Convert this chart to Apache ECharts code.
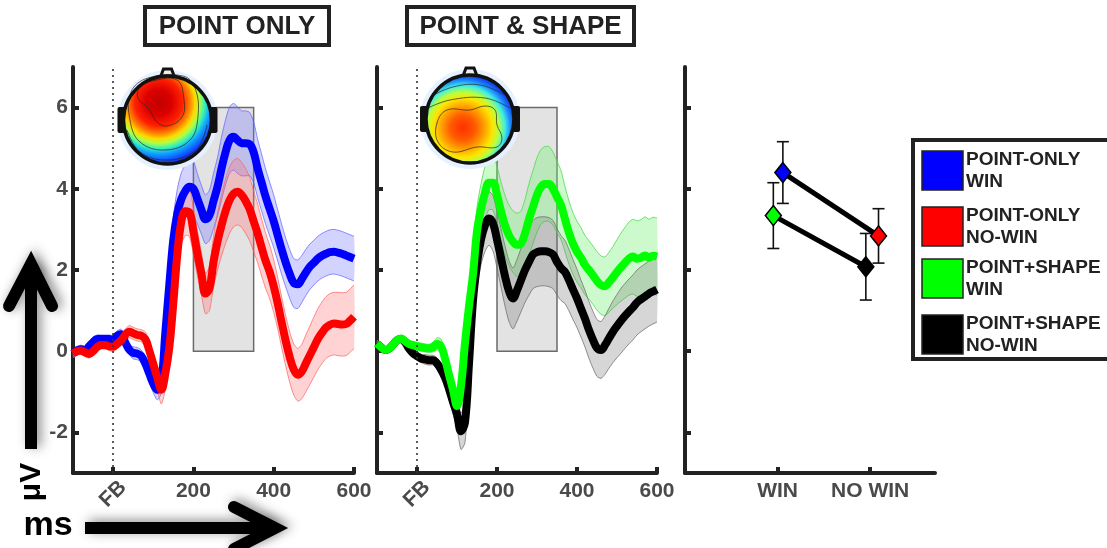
<!DOCTYPE html>
<html><head><meta charset="utf-8">
<script src="https://cdn.jsdelivr.net/npm/echarts@6/dist/echarts.min.js"></script>
<style>html,body{margin:0;padding:0;background:#fff}#c{width:1107px;height:548px}</style>
</head><body><div id="c"></div>
<script>
// ---------- DATA ----------
const times = [-100,-90,-80,-70,-60,-50,-40,-30,-20,-10,
  0,10,20,30,40,50,60,70,80,90,
  100,110,120,130,140,150,160,170,180,190,
  200,210,220,230,240,250,260,270,280,290,
  300,310,320,330,340,350,360,370,380,390,
  400,410,420,430,440,450,460,470,480,490,
  500,510,520,530,540,550,560,570,580,590,600];
const xTickValues = [0, 200, 400, 600];
const xLabelValues = [200, 400, 600];
const yTickValues = [-2, 0, 2, 4, 6];
const feedbackLabel = 'FB';

const pointOnlyWin = [-0.05,0.02,0.05,0.02,0.12,0.22,0.30,0.30,0.30,0.30,
  0.27,0.38,0.42,0.22,0.04,-0.04,-0.06,-0.12,-0.30,-0.55,
  -0.80,-0.95,-0.75,0.45,1.65,2.75,3.40,3.75,3.95,4.05,
  4.00,3.75,3.48,3.25,3.35,3.70,4.05,4.50,4.90,5.20,
  5.28,5.20,5.12,5.12,5.10,4.90,4.50,4.15,3.80,3.50,
  3.20,2.85,2.50,2.18,1.90,1.68,1.65,1.78,1.94,2.08,
  2.18,2.28,2.35,2.40,2.44,2.45,2.43,2.40,2.36,2.32,2.28];
const pointOnlyWinSE = [0.10,0.10,0.10,0.10,0.10,0.10,0.10,0.10,0.10,0.10,
  0.12,0.12,0.12,0.12,0.12,0.15,0.15,0.15,0.18,0.20,
  0.22,0.25,0.28,0.35,0.45,0.55,0.60,0.65,0.65,0.70,
  0.68,0.62,0.60,0.60,0.62,0.68,0.72,0.78,0.80,0.82,
  0.82,0.82,0.80,0.80,0.78,0.75,0.72,0.70,0.68,0.66,
  0.65,0.63,0.62,0.60,0.60,0.60,0.60,0.58,0.57,0.56,
  0.55,0.55,0.55,0.55,0.55,0.55,0.55,0.55,0.55,0.55,0.55];
const pointOnlyNoWin = [-0.06,0.00,0.02,-0.03,-0.07,0.00,0.10,0.15,0.15,0.12,
  0.11,0.18,0.27,0.40,0.48,0.44,0.40,0.38,0.30,0.02,
  -0.32,-0.65,-0.95,-0.55,0.10,1.20,2.40,3.20,3.45,3.42,
  2.95,2.40,1.90,1.42,1.55,2.20,2.70,3.10,3.45,3.72,
  3.88,3.93,3.85,3.70,3.50,3.20,2.90,2.55,2.22,1.95,
  1.60,1.18,0.70,0.25,-0.15,-0.45,-0.58,-0.50,-0.30,-0.10,
  0.10,0.30,0.45,0.58,0.65,0.68,0.67,0.66,0.67,0.75,0.85];
const pointOnlyNoWinSE = [0.10,0.10,0.10,0.10,0.10,0.10,0.10,0.10,0.10,0.10,
  0.12,0.12,0.13,0.14,0.15,0.15,0.15,0.15,0.18,0.20,
  0.25,0.30,0.35,0.40,0.45,0.50,0.55,0.58,0.60,0.60,
  0.58,0.55,0.52,0.50,0.55,0.62,0.70,0.75,0.80,0.82,
  0.82,0.82,0.80,0.80,0.78,0.75,0.72,0.70,0.68,0.66,
  0.65,0.63,0.62,0.62,0.62,0.63,0.65,0.67,0.70,0.72,
  0.74,0.75,0.76,0.76,0.77,0.77,0.78,0.78,0.78,0.78,0.78];
const pointShapeWin = [0.19,0.10,0.03,0.06,0.16,0.27,0.31,0.25,0.18,0.15,
  0.12,0.10,0.08,0.07,0.10,0.18,0.12,-0.18,-0.58,-0.95,
  -1.35,-0.85,0.20,1.10,1.90,2.95,3.50,3.90,4.15,4.15,
  3.85,3.45,3.10,2.85,2.70,2.62,2.65,2.90,3.25,3.55,
  3.85,4.05,4.12,4.12,4.00,3.80,3.60,3.25,2.92,2.65,
  2.45,2.30,2.12,2.00,1.87,1.73,1.63,1.60,1.70,1.82,
  1.95,2.07,2.18,2.28,2.33,2.28,2.30,2.36,2.30,2.35,2.33];
const pointShapeWinSE = [0.08,0.08,0.08,0.08,0.08,0.08,0.08,0.08,0.08,0.08,
  0.10,0.10,0.10,0.10,0.12,0.15,0.18,0.20,0.20,0.20,
  0.20,0.25,0.35,0.45,0.55,0.60,0.62,0.65,0.66,0.68,
  0.70,0.72,0.74,0.75,0.76,0.78,0.80,0.84,0.88,0.90,
  0.92,0.92,0.92,0.92,0.90,0.88,0.85,0.80,0.78,0.76,
  0.75,0.74,0.73,0.72,0.72,0.72,0.72,0.72,0.74,0.76,
  0.80,0.84,0.87,0.90,0.92,0.93,0.94,0.95,0.95,0.95,0.95];
const pointShapeNoWin = [0.19,0.10,0.03,0.06,0.16,0.27,0.30,0.22,0.06,-0.05,
  -0.12,-0.18,-0.20,-0.22,-0.22,-0.30,-0.45,-0.65,-0.93,-1.25,
  -1.55,-1.97,-1.75,-0.30,1.25,2.15,2.75,3.10,3.27,3.15,
  2.75,2.30,1.85,1.48,1.30,1.50,1.75,2.00,2.20,2.38,
  2.44,2.46,2.46,2.44,2.38,2.20,2.05,1.95,1.75,1.52,
  1.30,1.05,0.80,0.52,0.28,0.08,0.03,0.15,0.32,0.48,
  0.62,0.75,0.87,0.98,1.08,1.20,1.28,1.35,1.42,1.47,1.52];
const pointShapeNoWinSE = [0.08,0.08,0.08,0.08,0.08,0.08,0.08,0.08,0.08,0.08,
  0.10,0.10,0.12,0.12,0.12,0.14,0.16,0.20,0.25,0.30,
  0.35,0.45,0.50,0.50,0.55,0.60,0.62,0.64,0.66,0.68,
  0.70,0.72,0.74,0.75,0.75,0.76,0.78,0.80,0.82,0.84,
  0.85,0.85,0.85,0.85,0.84,0.82,0.80,0.78,0.76,0.74,
  0.72,0.70,0.70,0.70,0.70,0.70,0.70,0.72,0.74,0.76,
  0.78,0.80,0.80,0.80,0.80,0.80,0.80,0.80,0.80,0.80,0.80];

const analysisWindow = [200, 350];   // ms
const analysisWindowTop = 6;         // µV

const conditions = ['WIN', 'NO WIN'];
const pointOnlyMean = [4.40, 2.84];
const pointOnlyErr = [0.76, 0.67];
const pointShapeMean = [3.34, 2.08];
const pointShapeErr = [0.81, 0.82];

const panelTitles = ['POINT ONLY', 'POINT & SHAPE'];
const legendLabels = ['POINT-ONLY\nWIN', 'POINT-ONLY\nNO-WIN', 'POINT+SHAPE\nWIN', 'POINT+SHAPE\nNO-WIN'];
const colors = ['#0000ff', '#ff0000', '#00ff00', '#000000'];

// ---------- CHART ----------
const FONT = "'Liberation Sans', Arial, sans-serif";
const AX = '#222';
const LBL = '#4a4a4a';
const chart = echarts.init(document.getElementById('c'), null, {renderer: 'canvas'});

function mainX(grid) {
  return {gridIndex: grid, type: 'value', min: -100, max: 600, interval: 100, position: 'bottom',
    axisLine: {show: true, onZero: false, lineStyle: {color: AX, width: 4}},
    axisTick: {show: true, inside: true, length: 6, customValues: xTickValues, lineStyle: {color: AX, width: 4}},
    axisLabel: {show: true, customValues: xLabelValues, color: LBL, fontWeight: 'bold', fontSize: 21, fontFamily: FONT, margin: 8},
    splitLine: {show: false}};
}
function fbX(grid) {
  return {gridIndex: grid, type: 'value', min: -100, max: 600, interval: 100, position: 'bottom',
    axisLine: {show: false, onZero: false}, axisTick: {show: false}, splitLine: {show: false},
    axisLabel: {show: true, customValues: [0], formatter: () => feedbackLabel, rotate: 45, align: 'center',
      verticalAlign: 'middle', margin: 21, color: LBL, fontWeight: 'bold', fontSize: 21, fontFamily: FONT}};
}
function yAx(grid, labels) {
  return {gridIndex: grid, type: 'value', min: -3, max: 7, interval: 1,
    axisLine: {show: true, onZero: false, lineStyle: {color: AX, width: 4}},
    axisTick: {show: true, inside: true, length: 6, customValues: yTickValues, lineStyle: {color: AX, width: 4}},
    axisLabel: {show: labels, customValues: yTickValues, color: LBL, fontWeight: 'bold', fontSize: 21, fontFamily: FONT, margin: 5},
    splitLine: {show: false}};
}

// confidence band: one polygon, positioned through the axes with api.coord
function band(xi, yi, vals, se, fill, edge) {
  return {type: 'custom', xAxisIndex: xi, yAxisIndex: yi, silent: true, z: 2,
    data: [[times[0], vals[0]]], encode: {x: 0, y: 1},
    renderItem: (params, api) => {
      const upper = times.map((t, i) => api.coord([t, vals[i] + se[i]]));
      const lower = times.map((t, i) => api.coord([t, vals[i] - se[i]]));
      const poly = upper.concat(lower.slice().reverse());
      return {type: 'group', children: [
        {type: 'polygon', shape: {points: poly, smooth: 0.25}, style: {fill: fill, stroke: 'none'}},
        {type: 'polyline', shape: {points: upper, smooth: 0.25}, style: {stroke: edge, lineWidth: 0.9, fill: 'none'}},
        {type: 'polyline', shape: {points: lower, smooth: 0.25}, style: {stroke: edge, lineWidth: 0.9, fill: 'none'}}]};
    }};
}
function wave(xi, yi, vals, color) {
  return {type: 'line', xAxisIndex: xi, yAxisIndex: yi, data: times.map((t, i) => [t, vals[i]]),
    symbol: 'none', smooth: 0.4, clip: false, silent: true, z: 4, lineStyle: {color: color, width: 8}};
}
function windowSeries(xi, yi) {
  return {type: 'line', xAxisIndex: xi, yAxisIndex: yi, data: [], symbol: 'none', silent: true, z: 1,
    markArea: {silent: true, itemStyle: {color: '#e3e3e3', borderColor: '#6b6b6b', borderWidth: 1.5},
      data: [[{xAxis: analysisWindow[0], yAxis: 0}, {xAxis: analysisWindow[1], yAxis: analysisWindowTop}]]},
    markLine: {silent: true, symbol: ['none', 'none'], label: {show: false},
      lineStyle: {type: [2, 4], color: '#333', width: 1.6}, data: [{xAxis: 0}]}};
}

const dodgeWin = [0.057, -0.046], dodgeNo = [0.09, -0.047];
function errBars(means, errs, dodge) {
  return {type: 'custom', xAxisIndex: 4, yAxisIndex: 2, z: 3, silent: true,
    data: means.map((m, i) => [i + 1 + dodge[i], m, errs[i]]),
    encode: {x: 0, y: 1},
    renderItem: (params, api) => {
      const x = api.value(0), m = api.value(1), e = api.value(2);
      const t = api.coord([x, m + e]), b = api.coord([x, m - e]);
      const cap = 6, st = {stroke: '#111', lineWidth: 1.6};
      return {type: 'group', children: [
        {type: 'line', shape: {x1: t[0], y1: t[1], x2: b[0], y2: b[1]}, style: st},
        {type: 'line', shape: {x1: t[0] - cap, y1: t[1], x2: t[0] + cap, y2: t[1]}, style: st},
        {type: 'line', shape: {x1: b[0] - cap, y1: b[1], x2: b[0] + cap, y2: b[1]}, style: st}]};
    }};
}
function diamonds(means, dodge, cols) {
  return {type: 'line', xAxisIndex: 4, yAxisIndex: 2, z: 5, silent: true,
    data: means.map((m, i) => ({value: [i + 1 + dodge[i], m], itemStyle: {color: cols[i], borderColor: '#000', borderWidth: 1.5}})),
    symbol: 'diamond', symbolSize: [16, 20], showAllSymbol: true,
    lineStyle: {color: '#000', width: 5}};
}

// decorative scalp maps (illustration, not data)
function topo(cx, cy, gx, gy, gr, stops, contours) {
  const z = 20;
  const kids = [
    {type: 'circle', z: z, shape: {cx: cx, cy: cy, r: 50}, style: {fill: '#e6f1ff'}},
    {type: 'rect', z: z, shape: {x: cx - 50, y: cy - 13, width: 8, height: 26, r: 2}, style: {fill: '#111'}},
    {type: 'rect', z: z, shape: {x: cx + 42, y: cy - 13, width: 8, height: 26, r: 2}, style: {fill: '#111'}},
    {type: 'polyline', z: z, shape: {points: [[cx - 7, cy - 43], [cx - 4, cy - 51], [cx + 4, cy - 51], [cx + 7, cy - 43]]},
      style: {stroke: '#111', lineWidth: 3, fill: '#eee'}},
    {type: 'circle', z: z, shape: {cx: cx, cy: cy, r: 44},
      style: {fill: new echarts.graphic.RadialGradient(gx, gy, gr, stops)}}];
  contours.forEach(c => kids.push({type: c.closed ? 'polygon' : 'polyline', z: z,
    shape: {points: c.pts, smooth: 0.4}, style: {fill: 'none', stroke: 'rgba(40,40,40,0.8)', lineWidth: 0.9}}));
  kids.push({type: 'circle', z: z, shape: {cx: cx, cy: cy, r: 44}, style: {fill: 'none', stroke: '#111', lineWidth: 3.5}});
  return {type: 'group', children: kids};
}
function stopList(arr) { return arr.map(a => ({offset: a[0], color: a[1]})); }

function txt(x, y, text, size, color, opts) {
  return Object.assign({type: 'text', x: x, y: y, z: 30,
    style: {text: text, font: 'bold ' + size + 'px ' + FONT, fill: color,
      align: 'center', textAlign: 'center', verticalAlign: 'middle', textVerticalAlign: 'middle'}}, opts || {});
}

const graphics = [];
[[145, 7, 184, 38], [407, 7, 227, 38]].forEach((b, i) => {
  graphics.push({type: 'rect', z: 30, shape: {x: b[0], y: b[1], width: b[2], height: b[3]},
    style: {fill: '#fff', stroke: '#222', lineWidth: 4}});
  graphics.push(txt(b[0] + b[2] / 2, b[1] + b[3] / 2 + 1, panelTitles[i], 26, '#222'));
});
graphics.push(topo(167.5, 120, 0.40, 0.30, 0.75, stopList([[0, '#c00000'], [0.2, '#dc0000'], [0.36, '#ff2000'],
  [0.47, '#ff8000'], [0.55, '#ffd800'], [0.62, '#b0ff40'], [0.7, '#30f0c0'], [0.78, '#10a0ff'], [0.9, '#1040ff'], [1, '#0010c0']]),
  [{closed: true, pts: [[140, 87], [152, 81], [177, 80], [184, 100], [182, 117], [167, 126], [157, 122], [149, 109], [138, 98]]},
   {closed: true, pts: [[131, 92], [148, 78], [183, 76], [195, 88], [198, 116], [190, 140], [165, 150], [140, 142], [130, 120]]},
   {closed: false, pts: [[127, 130], [140, 152], [168, 160], [196, 150], [207, 125]]}]));
graphics.push(topo(470, 119, 0.42, 0.6, 0.7, stopList([[0, '#ff3000'], [0.2, '#ff5a00'], [0.35, '#ffa000'],
  [0.48, '#ffe400'], [0.58, '#b8ff40'], [0.68, '#40f0e0'], [0.78, '#1a80ff'], [0.88, '#1030e0'], [1, '#0808a0']]),
  [{closed: true, pts: [[437, 123], [447, 110], [470, 110], [485, 106], [495, 110], [497, 125], [502, 138], [497, 147], [477, 147], [453, 152], [438, 142]]},
   {closed: false, pts: [[430, 97], [453, 87], [480, 85], [505, 95]]},
   {closed: false, pts: [[428, 108], [450, 100], [485, 98], [510, 108]]}]));
graphics.push({type: 'rect', z: 30, shape: {x: 913, y: 140, width: 205, height: 219},
  style: {fill: '#fff', stroke: '#222', lineWidth: 4}});
[151, 207, 259, 315].forEach((top, i) => {
  graphics.push({type: 'rect', z: 31, shape: {x: 922, y: top, width: 41, height: 39},
    style: {fill: colors[i], stroke: '#222', lineWidth: 1.5}});
  graphics.push({type: 'text', z: 31, x: 966, y: top - 2,
    style: {text: legendLabels[i], font: 'bold 19px ' + FONT, fill: '#222', lineHeight: 22,
      align: 'left', textAlign: 'left', verticalAlign: 'top', textVerticalAlign: 'top'}});
});
const arrowStyle = {stroke: '#000', lineWidth: 12, fill: 'none', shadowBlur: 12, shadowColor: 'rgba(0,0,0,0.45)', shadowOffsetX: 4, shadowOffsetY: -2};
graphics.push({type: 'line', z: 30, shape: {x1: 31, y1: 449, x2: 31, y2: 268}, style: Object.assign({}, arrowStyle, {lineCap: 'butt'})});
graphics.push({type: 'polyline', z: 30, shape: {points: [[9, 306], [31, 264], [52, 306]]}, style: Object.assign({}, arrowStyle, {lineCap: 'round', lineJoin: 'miter'})});
graphics.push({type: 'line', z: 30, shape: {x1: 85, y1: 528, x2: 270, y2: 528}, style: Object.assign({}, arrowStyle, {lineCap: 'butt'})});
graphics.push({type: 'polyline', z: 30, shape: {points: [[234, 507], [275, 528], [234, 549]]}, style: Object.assign({}, arrowStyle, {lineCap: 'round', lineJoin: 'miter'})});
graphics.push(txt(32, 482, 'μV', 30, '#000', {rotation: Math.PI / 2}));
graphics.push(txt(48, 526, 'ms', 34, '#000'));

const option = {
  animation: false,
  grid: [
    {left: 73, top: 67, width: 281, height: 406},
    {left: 377, top: 67, width: 280, height: 406},
    {left: 685, top: 67, width: 250, height: 406}
  ],
  xAxis: [
    mainX(0), fbX(0), mainX(1), fbX(1),
    {gridIndex: 2, type: 'value', min: 0, max: 2.7, interval: 1, position: 'bottom',
      axisLine: {show: true, onZero: false, lineStyle: {color: AX, width: 4}},
      axisTick: {show: true, inside: true, length: 6, customValues: [1, 2], lineStyle: {color: AX, width: 4}},
      axisLabel: {show: true, customValues: [1, 2], formatter: v => conditions[Math.round(v) - 1] || '',
        color: LBL, fontWeight: 'bold', fontSize: 21, fontFamily: FONT, margin: 8},
      splitLine: {show: false}}
  ],
  yAxis: [yAx(0, true), yAx(1, false), yAx(2, false)],
  series: [
    windowSeries(0, 0),
    band(0, 0, pointOnlyWin, pointOnlyWinSE, 'rgba(110,110,255,0.3)', 'rgba(90,90,255,0.75)'),
    band(0, 0, pointOnlyNoWin, pointOnlyNoWinSE, 'rgba(255,110,110,0.3)', 'rgba(255,90,90,0.75)'),
    wave(0, 0, pointOnlyWin, colors[0]),
    wave(0, 0, pointOnlyNoWin, colors[1]),
    windowSeries(2, 1),
    band(2, 1, pointShapeWin, pointShapeWinSE, 'rgba(110,240,110,0.35)', 'rgba(70,220,70,0.85)'),
    band(2, 1, pointShapeNoWin, pointShapeNoWinSE, 'rgba(120,120,120,0.3)', 'rgba(110,110,110,0.85)'),
    wave(2, 1, pointShapeNoWin, colors[3]),
    wave(2, 1, pointShapeWin, colors[2]),
    errBars(pointOnlyMean, pointOnlyErr, [dodgeWin[0], dodgeNo[0]]),
    errBars(pointShapeMean, pointShapeErr, [dodgeWin[1], dodgeNo[1]]),
    diamonds(pointOnlyMean, [dodgeWin[0], dodgeNo[0]], [colors[0], colors[1]]),
    diamonds(pointShapeMean, [dodgeWin[1], dodgeNo[1]], [colors[2], colors[3]])
  ],
  graphic: graphics
};
chart.setOption(option);
</script>
</body></html>
